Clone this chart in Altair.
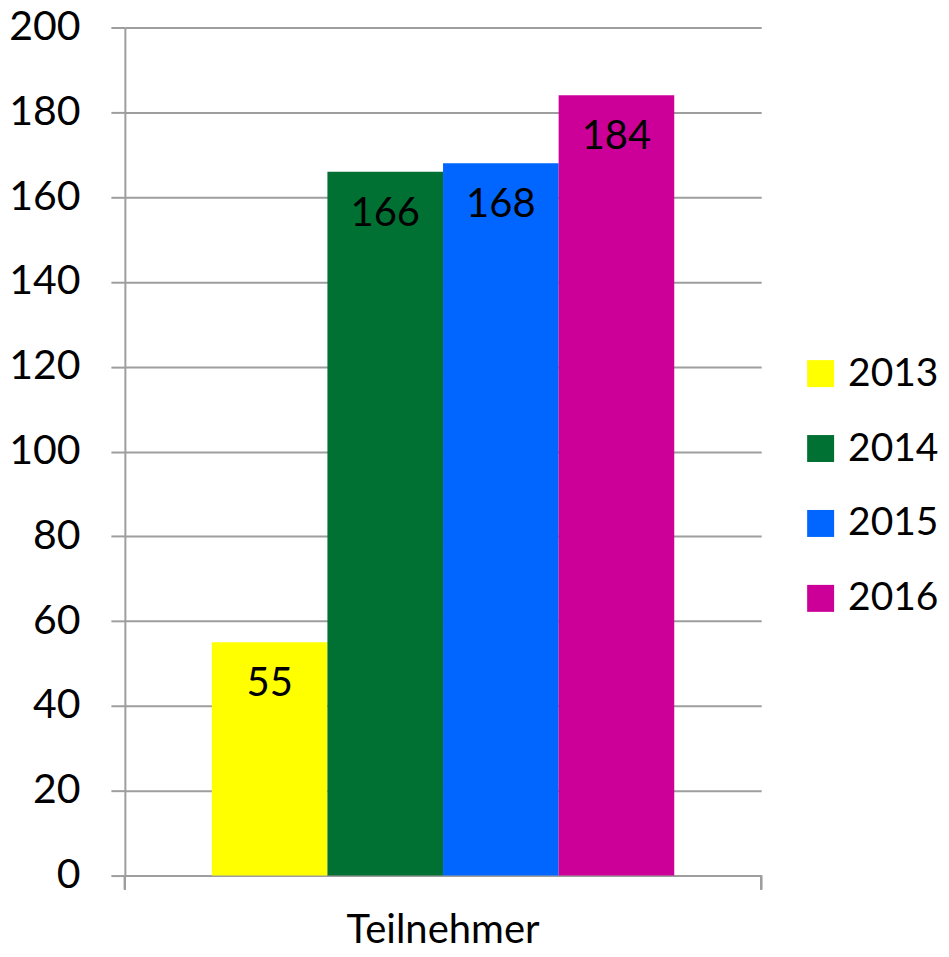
import altair as alt
import pandas as pd

category = ["Teilnehmer"] * 4
years = ["2013", "2014", "2015", "2016"]
values = [55, 166, 168, 184]
colors = ["#FFFF00", "#007033", "#0066FF", "#CC0099"]

df = pd.DataFrame({"cat": category, "year": years, "value": values})

FONT = "Lato"
W, H = 637, 849

base = alt.Chart(df)

bars = base.mark_bar().encode(
    x=alt.X("cat:N", title=None,
            scale=alt.Scale(paddingInner=0, paddingOuter=0),
            axis=alt.Axis(labelAngle=0, labelFont=FONT, labelFontSize=40,
                          labelColor="black", labelPadding=35, labelLimit=0,
                          ticks=False, domainColor="#9e9e9e", domainWidth=2)),
    xOffset=alt.XOffset("year:N", scale=alt.Scale(paddingInner=0, paddingOuter=0.752)),
    y=alt.Y("value:Q", title=None,
            scale=alt.Scale(domain=[0, 200], nice=False),
            axis=alt.Axis(values=list(range(0, 201, 20)), labelFont=FONT,
                          labelFontSize=41, labelColor="black", labelPadding=31,
                          labelLimit=0, labelOverlap=False,
                          tickSize=14, tickColor="#9e9e9e", tickWidth=2,
                          domainColor="#9e9e9e", domainWidth=2,
                          gridColor="#9e9e9e", gridWidth=2)),
    color=alt.Color("year:N", title=None,
                    scale=alt.Scale(domain=years, range=colors),
                    legend=alt.Legend(orient="none", legendX=677, legendY=327,
                                      symbolType="square", symbolSize=729,
                                      symbolStrokeWidth=0, labelFont=FONT,
                                      labelFontSize=39, labelColor="black",
                                      labelLimit=0,
                                      labelOffset=8, rowPadding=35, padding=0)),
)

labels = base.mark_text(font=FONT, fontSize=40, color="black",
                        baseline="middle", dy=42).encode(
    x="cat:N",
    xOffset="year:N",
    y="value:Q",
    text="value:Q",
)

tick_l = alt.Chart(df).mark_rule(color="#9e9e9e", strokeWidth=2).encode(
    x=alt.value(0), y=alt.value(H), y2=alt.value(H + 14))
tick_r = alt.Chart(df).mark_rule(color="#9e9e9e", strokeWidth=2).encode(
    x=alt.value(W), y=alt.value(H), y2=alt.value(H + 14))

chart = alt.layer(bars, labels, tick_l, tick_r).properties(
    width=W, height=H,
    autosize=alt.AutoSizeParams(type="none"),
    padding={"left": 117, "top": 19, "right": 180, "bottom": 70},
).configure_view(stroke=None).configure_axis(labelFont=FONT)

chart.save("out.html", embed_options={"renderer": "svg", "actions": False})
